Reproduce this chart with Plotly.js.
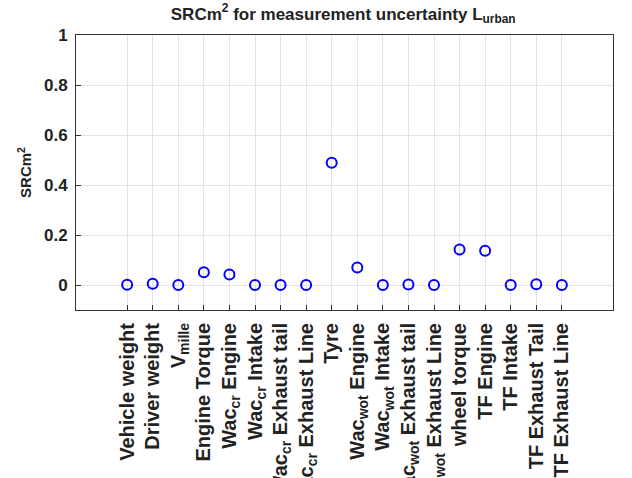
<!DOCTYPE html>
<html>
<head>
<meta charset="utf-8">
<script src="https://cdn.plot.ly/plotly-3.0.1.min.js"></script>
<style>html,body{margin:0;padding:0;background:#fff;}#chart{width:632px;height:478px;}</style>
</head>
<body>
<div id="chart"></div>
<script>
const categories = [
  "Vehicle weight", "Driver weight", "V<sub>mille</sub>", "Engine Torque",
  "Wac<sub>cr</sub> Engine", "Wac<sub>cr</sub> Intake", "Wac<sub>cr</sub> Exhaust tail", "Wac<sub>cr</sub> Exhaust Line",
  "Tyre", "Wac<sub>wot</sub> Engine", "Wac<sub>wot</sub> Intake", "Wac<sub>wot</sub> Exhaust tail",
  "Wac<sub>wot</sub> Exhaust Line", "wheel torque", "TF Engine", "TF Intake",
  "TF Exhaust Tail", "TF Exhaust Line"
];
const srcValues = [0.001, 0.005, 0.0, 0.051, 0.042, 0.0, 0.0, 0.0, 0.489, 0.070, 0.0, 0.002, 0.0, 0.142, 0.137, 0.0, 0.003, 0.0];
const yTicks = [0, 0.2, 0.4, 0.6, 0.8, 1];
const yTickText = ["0", "0.2", "0.4", "0.6", "0.8", "1"];

const xIdx = categories.map((c, i) => i + 1);
const fontFam = "Liberation Sans, Arial, Helvetica, sans-serif";

const trace = {
  x: xIdx, y: srcValues, type: "scatter", mode: "markers",
  marker: {symbol: "circle-open", size: 10, color: "#0000ff", line: {width: 2, color: "#0000ff"}},
  hoverinfo: "skip"
};

const layout = {
  width: 632, height: 478,
  margin: {l: 76, r: 19, t: 35, b: 168, autoexpand: false},
  paper_bgcolor: "#fff", plot_bgcolor: "#fff",
  showlegend: false,
  title: {text: "SRCm<sup>2</sup> for measurement uncertainty L<sub>urban</sub>",
    font: {family: fontFam, size: 17, color: "#222", weight: "bold"},
    x: 0.543, xanchor: "center", y: 0.984, yanchor: "top"},
  xaxis: {
    range: [-1, 20], tickmode: "array", tickvals: xIdx, ticktext: categories,
    tickangle: -90, ticks: "inside", ticklen: 5, tickcolor: "#333",
    ticklabelstandoff: 4,
    showgrid: true, gridcolor: "#e3e3e3", gridwidth: 1,
    showline: true, linecolor: "#333", linewidth: 1, mirror: true,
    zeroline: false, automargin: false,
    tickfont: {family: fontFam, size: 20, color: "#222", weight: "bold"}
  },
  yaxis: {
    range: [-0.1, 1], tickmode: "array", tickvals: yTicks, ticktext: yTickText,
    ticks: "inside", ticklen: 5, tickcolor: "#333",
    ticklabelstandoff: 4,
    showgrid: true, gridcolor: "#e3e3e3", gridwidth: 1,
    showline: true, linecolor: "#333", linewidth: 1, mirror: true,
    zeroline: false, automargin: false,
    tickfont: {family: fontFam, size: 17, color: "#222", weight: "bold"},
    title: {text: "SRCm<sup>2</sup>", font: {family: fontFam, size: 15, color: "#222", weight: "bold"}, standoff: 8}
  }
};

Plotly.newPlot("chart", [trace], layout, {displayModeBar: false, staticPlot: true});
</script>
</body>
</html>
